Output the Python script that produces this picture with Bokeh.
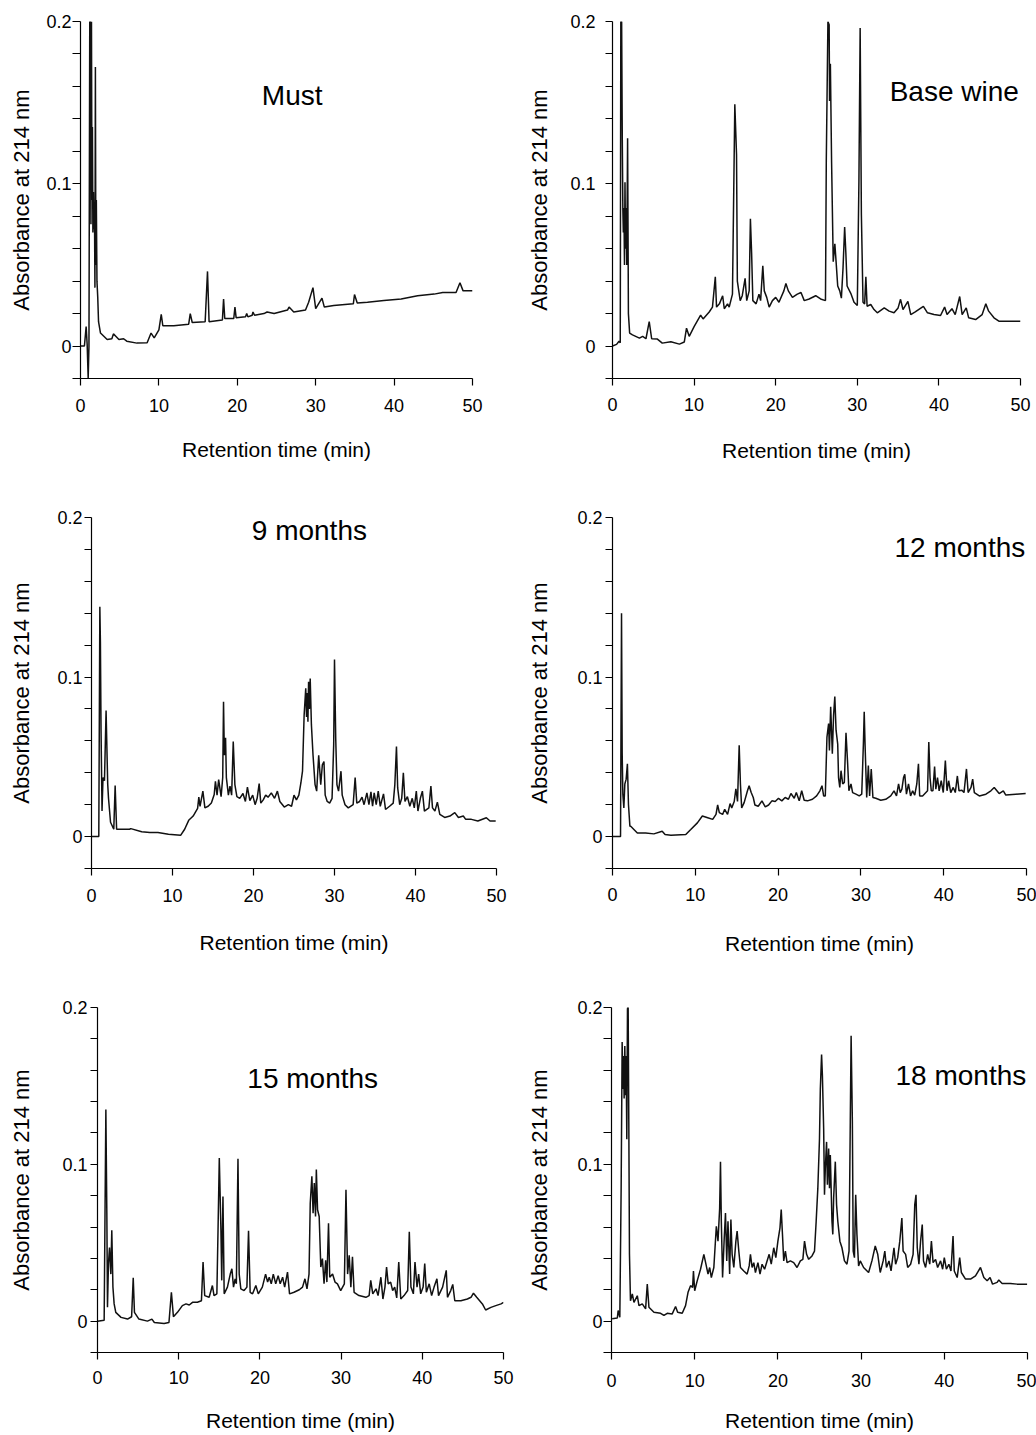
from bokeh.plotting import figure
from bokeh.layouts import column, row
from bokeh.models import Range1d, FixedTicker, Label
from bokeh.embed import file_html
from bokeh.resources import INLINE

# ---------------- data (retention time in min, absorbance at 214 nm) ----------------
must = [(0, 0.0), (0.5, 0.0), (0.72, 0.012), (0.85, 0.001), (0.98, -0.02), (1.08, 0.0), (1.18, 0.2),
        (1.28, 0.2), (1.33, 0.075), (1.4, 0.2), (1.46, 0.09), (1.52, 0.135), (1.58, 0.07), (1.65, 0.095),
        (1.72, 0.072), (1.78, 0.088), (1.84, 0.036), (1.9, 0.172), (1.96, 0.05), (2.02, 0.09), (2.1, 0.04),
        (2.2, 0.03), (2.3, 0.015), (2.55, 0.008), (3.4, 0.004), (4.0, 0.0045), (4.2, 0.0075), (4.5, 0.006),
        (4.9, 0.004), (5.5, 0.0045), (5.9, 0.003), (7.2, 0.0018), (8.5, 0.002), (9.0, 0.008), (9.4, 0.005),
        (10.0, 0.01), (10.3, 0.0195), (10.5, 0.0125), (11.9, 0.0125), (13.8, 0.0135), (14.0, 0.02),
        (14.25, 0.0145), (15.9, 0.015), (16.2, 0.046), (16.4, 0.015), (18.1, 0.016), (18.25, 0.029),
        (18.4, 0.017), (19.55, 0.017), (19.7, 0.024), (19.85, 0.0175), (21.05, 0.018), (21.2, 0.02),
        (21.35, 0.018), (21.9, 0.019), (22.0, 0.021), (22.2, 0.019), (23.4, 0.02), (23.8, 0.021),
        (24.7, 0.02), (26.4, 0.0222), (26.6, 0.024), (27.2, 0.021), (28.7, 0.0222), (29.1, 0.027),
        (29.65, 0.036), (30.0, 0.023), (30.8, 0.0295), (31.1, 0.024), (32.3, 0.025), (34.8, 0.026),
        (34.95, 0.0317), (35.3, 0.0265), (36.6, 0.027), (38.7, 0.028), (40.9, 0.029), (43.0, 0.031),
        (45.1, 0.032), (46.2, 0.033), (47.9, 0.033), (48.4, 0.039), (48.8, 0.034), (50.0, 0.034)]

base_wine = [(0, 0.0), (0.5, 0.001), (0.8, 0.003), (0.95, 0.002), (1.02, 0.2), (1.12, 0.2), (1.2, 0.127),
             (1.27, 0.084), (1.33, 0.07), (1.4, 0.085), (1.47, 0.05), (1.53, 0.101), (1.6, 0.06), (1.68, 0.085),
             (1.75, 0.05), (1.85, 0.128), (1.95, 0.02), (2.1, 0.008), (2.45, 0.0069), (3.3, 0.0049), (3.7, 0.006),
             (4.1, 0.0045), (4.5, 0.015), (4.8, 0.0045), (5.5, 0.0043), (6.1, 0.0018), (7.15, 0.0027),
             (8.2, 0.0012), (8.8, 0.0025), (9.07, 0.011), (9.4, 0.006), (10.0, 0.012), (10.8, 0.019),
             (11.1, 0.0167), (11.85, 0.021), (12.25, 0.024), (12.6, 0.0427), (12.75, 0.024), (13.1, 0.026),
             (13.5, 0.031), (13.7, 0.023), (14.1, 0.026), (14.3, 0.024), (14.7, 0.032), (14.99, 0.149),
             (15.2, 0.118), (15.3, 0.04), (15.65, 0.028), (15.9, 0.031), (16.25, 0.0417), (16.45, 0.028),
             (16.75, 0.034), (16.9, 0.0785), (17.05, 0.057), (17.2, 0.028), (17.6, 0.026), (17.95, 0.032),
             (18.15, 0.028), (18.42, 0.0495), (18.6, 0.034), (18.9, 0.03), (19.2, 0.024), (19.6, 0.028),
             (20.0, 0.03), (20.4, 0.027), (21.0, 0.034), (21.25, 0.0385), (21.55, 0.034), (22.05, 0.03),
             (22.65, 0.032), (23.1, 0.033), (23.5, 0.028), (24.1, 0.029), (24.9, 0.031), (25.5, 0.029),
             (26.1, 0.028), (26.2, 0.114), (26.4, 0.2), (26.55, 0.198), (26.6, 0.151), (26.7, 0.174),
             (26.85, 0.113), (27.05, 0.052), (27.25, 0.063), (27.4, 0.052), (27.6, 0.037), (27.85, 0.034),
             (28.05, 0.0295), (28.25, 0.048), (28.45, 0.0734), (28.6, 0.057), (28.75, 0.037), (29.2, 0.0325),
             (29.6, 0.027), (30.0, 0.025), (30.2, 0.102), (30.35, 0.196), (30.5, 0.081), (30.7, 0.027),
             (30.9, 0.026), (31.05, 0.0427), (31.2, 0.0245), (31.65, 0.0256), (32.05, 0.0225), (32.45, 0.0205),
             (33.3, 0.0235), (33.9, 0.0215), (34.5, 0.0205), (35.0, 0.0235), (35.3, 0.0288), (35.6, 0.0225),
             (36.2, 0.0275), (36.55, 0.0194), (37.1, 0.021), (38.1, 0.0245), (38.6, 0.0205), (39.4, 0.0194),
             (40.2, 0.0188), (40.7, 0.024), (41.0, 0.0194), (41.6, 0.023), (42.0, 0.0194), (42.55, 0.0305),
             (42.85, 0.0194), (43.35, 0.0235), (43.65, 0.0174), (44.5, 0.0163), (45.3, 0.0194), (45.75, 0.026),
             (46.1, 0.0215), (46.75, 0.0174), (47.35, 0.0153), (48.4, 0.0153), (50.0, 0.0153)]

months_9 = [(0, 0.0), (0.9, 0.0), (1.03, 0.144), (1.1, 0.122), (1.18, 0.066), (1.3, 0.016), (1.42, 0.037),
            (1.6, 0.035), (1.8, 0.079), (2.0, 0.033), (2.1, 0.024), (2.35, 0.009), (2.75, 0.0046), (2.92, 0.032),
            (3.1, 0.0046), (4.7, 0.0046), (4.85, 0.005), (6.2, 0.003), (7.2, 0.0025), (8.2, 0.0025),
            (9.5, 0.0015), (11.0, 0.0008), (11.5, 0.0046), (12.0, 0.0102), (12.55, 0.0129), (13.1, 0.0177),
            (13.25, 0.0247), (13.4, 0.019), (13.75, 0.0285), (14.0, 0.018), (14.4, 0.019), (14.8, 0.021),
            (15.15, 0.0264), (15.3, 0.0347), (15.5, 0.026), (15.7, 0.0357), (16.0, 0.025), (16.2, 0.037),
            (16.3, 0.0845), (16.4, 0.051), (16.55, 0.062), (16.65, 0.037), (16.9, 0.026), (17.1, 0.0316),
            (17.3, 0.026), (17.5, 0.0596), (17.7, 0.0326), (17.95, 0.025), (18.3, 0.024), (18.7, 0.027),
            (19.0, 0.022), (19.25, 0.031), (19.55, 0.0226), (19.9, 0.026), (20.2, 0.02), (20.45, 0.024),
            (20.7, 0.0332), (20.9, 0.021), (21.2, 0.023), (21.5, 0.026), (21.8, 0.0247), (22.2, 0.0274),
            (22.6, 0.024), (22.95, 0.0285), (23.25, 0.022), (23.8, 0.0185), (24.3, 0.02), (24.7, 0.019),
            (25.0, 0.026), (25.3, 0.023), (25.6, 0.026), (25.85, 0.0336), (26.05, 0.041), (26.25, 0.076),
            (26.45, 0.093), (26.55, 0.075), (26.65, 0.09), (26.72, 0.072), (26.8, 0.097), (26.9, 0.08),
            (27.0, 0.099), (27.15, 0.07), (27.35, 0.051), (27.6, 0.0326), (27.8, 0.0285), (28.05, 0.051),
            (28.3, 0.0326), (28.5, 0.045), (28.7, 0.047), (28.85, 0.026), (29.1, 0.022), (29.4, 0.021),
            (29.7, 0.024), (29.9, 0.0575), (30.0, 0.111), (30.15, 0.0617), (30.3, 0.0326), (30.5, 0.0285),
            (30.8, 0.041), (30.95, 0.026), (31.3, 0.02), (31.7, 0.018), (32.3, 0.02), (32.55, 0.037),
            (32.75, 0.021), (33.1, 0.022), (33.4, 0.0247), (33.65, 0.02), (34.0, 0.0274), (34.25, 0.02),
            (34.5, 0.028), (34.7, 0.019), (34.9, 0.0274), (35.15, 0.02), (35.4, 0.0285), (35.65, 0.019),
            (36.05, 0.0268), (36.3, 0.017), (36.8, 0.019), (37.25, 0.021), (37.45, 0.0326), (37.65, 0.0565),
            (37.8, 0.0305), (38.05, 0.02), (38.3, 0.024), (38.5, 0.04), (38.7, 0.022), (39.0, 0.025),
            (39.3, 0.019), (39.6, 0.024), (39.85, 0.018), (40.1, 0.0285), (40.3, 0.016), (40.6, 0.024),
            (40.85, 0.0285), (41.1, 0.016), (41.65, 0.018), (41.9, 0.0316), (42.1, 0.018), (42.4, 0.016),
            (42.7, 0.0216), (43.0, 0.0139), (43.6, 0.012), (44.25, 0.0129), (44.85, 0.015), (45.3, 0.012),
            (45.9, 0.0129), (46.2, 0.0108), (46.9, 0.0108), (47.7, 0.0098), (48.75, 0.0118), (49.2, 0.0098),
            (49.9, 0.0098)]

months_12 = [(0, 0.0), (0.97, 0.0), (1.09, 0.14), (1.17, 0.052), (1.25, 0.0266), (1.37, 0.018), (1.49, 0.033),
             (1.65, 0.036), (1.8, 0.0456), (1.93, 0.02), (2.1, 0.0065), (2.2, 0.0065), (3.0, 0.0023),
             (4.0, 0.0023), (5.0, 0.0017), (6.0, 0.0034), (6.35, 0.0013), (7.05, 0.0008), (8.85, 0.0013),
             (9.45, 0.0044), (10.25, 0.0086), (10.85, 0.0129), (11.5, 0.0118), (12.1, 0.0108), (12.5, 0.0139),
             (12.7, 0.0198), (12.9, 0.015), (13.3, 0.0139), (13.55, 0.0171), (13.9, 0.0139), (14.2, 0.0207),
             (14.4, 0.018), (14.7, 0.022), (14.9, 0.03), (15.1, 0.022), (15.3, 0.0572), (15.45, 0.033),
             (15.6, 0.018), (15.9, 0.0213), (16.3, 0.0287), (16.5, 0.0319), (16.75, 0.0276), (17.0, 0.0245),
             (17.2, 0.0198), (17.6, 0.019), (18.05, 0.0224), (18.45, 0.0186), (18.85, 0.0198), (19.25, 0.0224),
             (19.65, 0.022), (20.05, 0.024), (20.45, 0.0224), (20.85, 0.0245), (21.25, 0.0234), (21.55, 0.027),
             (21.95, 0.024), (22.2, 0.0276), (22.55, 0.0224), (22.85, 0.0287), (23.15, 0.0228), (23.55, 0.0224),
             (24.15, 0.0234), (24.65, 0.0255), (25.05, 0.0287), (25.3, 0.0319), (25.5, 0.0255), (25.7, 0.0255),
             (25.9, 0.0624), (26.1, 0.0709), (26.2, 0.054), (26.35, 0.0814), (26.55, 0.052), (26.7, 0.076),
             (26.85, 0.0878), (27.0, 0.0667), (27.2, 0.058), (27.3, 0.037), (27.45, 0.0308), (27.6, 0.0413),
             (27.8, 0.033), (28.0, 0.034), (28.2, 0.065), (28.4, 0.0456), (28.55, 0.0287), (28.8, 0.033),
             (29.0, 0.0276), (29.4, 0.0266), (29.8, 0.0255), (30.1, 0.0266), (30.3, 0.058), (30.4, 0.0783),
             (30.5, 0.058), (30.7, 0.0245), (30.9, 0.0445), (31.05, 0.0255), (31.25, 0.0424), (31.45, 0.0245),
             (31.8, 0.024), (32.4, 0.0228), (33.0, 0.0234), (33.6, 0.0255), (34.0, 0.0287), (34.3, 0.0255),
             (34.55, 0.033), (34.75, 0.0276), (34.95, 0.0297), (35.15, 0.037), (35.3, 0.039), (35.5, 0.0266),
             (35.75, 0.033), (36.0, 0.0255), (36.25, 0.0287), (36.5, 0.026), (36.75, 0.033), (36.95, 0.0456),
             (37.1, 0.0255), (37.45, 0.0255), (38.05, 0.0287), (38.2, 0.0593), (38.35, 0.037), (38.5, 0.0287),
             (38.7, 0.0287), (38.9, 0.0439), (39.05, 0.0297), (39.25, 0.037), (39.45, 0.0287), (39.7, 0.035),
             (39.95, 0.0276), (40.2, 0.0477), (40.4, 0.0287), (40.6, 0.035), (40.85, 0.0276), (41.15, 0.0308),
             (41.4, 0.0276), (41.65, 0.038), (41.85, 0.0287), (42.2, 0.029), (42.45, 0.0276), (42.75, 0.0424),
             (42.95, 0.0276), (43.3, 0.0308), (43.5, 0.036), (43.7, 0.0276), (44.3, 0.0255), (45.1, 0.0266),
             (45.7, 0.0287), (46.1, 0.0308), (46.7, 0.027), (47.2, 0.0287), (47.5, 0.026), (48.7, 0.0266),
             (49.9, 0.027)]

months_15 = [(0, 0.0), (0.82, 0.0006), (1.03, 0.135), (1.15, 0.0688), (1.23, 0.0088), (1.35, 0.0367),
             (1.48, 0.047), (1.64, 0.03), (1.76, 0.058), (1.9, 0.0217), (2.05, 0.011), (2.25, 0.0056),
             (2.9, 0.0024), (3.7, 0.0013), (4.2, 0.0028), (4.4, 0.0277), (4.55, 0.0056), (5.1, 0.0013),
             (6.15, 0.0), (6.7, 0.0013), (7.0, -0.0009), (8.2, -0.0015), (8.8, -0.0009), (9.1, 0.0184),
             (9.35, 0.0028), (9.85, 0.0056), (10.45, 0.0099), (10.9, 0.011), (11.3, 0.0103), (11.7, 0.012),
             (12.3, 0.012), (12.8, 0.013), (13.0, 0.0377), (13.2, 0.0163), (13.75, 0.0152), (14.15, 0.0227),
             (14.35, 0.0163), (14.7, 0.0174), (14.85, 0.06), (15.0, 0.104), (15.2, 0.058), (15.3, 0.026),
             (15.45, 0.0795), (15.6, 0.0174), (16.0, 0.0217), (16.35, 0.03), (16.55, 0.0334), (16.75, 0.0217),
             (16.95, 0.027), (17.1, 0.0238), (17.3, 0.1035), (17.45, 0.03), (17.65, 0.0206), (18.05, 0.0195),
             (18.4, 0.0217), (18.6, 0.0577), (18.8, 0.0184), (19.1, 0.0174), (19.5, 0.0227), (19.8, 0.0174),
             (20.3, 0.0217), (20.7, 0.03), (20.95, 0.0249), (21.15, 0.028), (21.4, 0.0238), (21.65, 0.03),
             (21.95, 0.0238), (22.25, 0.029), (22.5, 0.0238), (22.8, 0.028), (23.05, 0.0217), (23.4, 0.0313),
             (23.65, 0.0174), (24.2, 0.0184), (24.85, 0.02), (25.25, 0.0217), (25.55, 0.027), (25.8, 0.0206),
             (26.05, 0.03), (26.2, 0.0752), (26.4, 0.0924), (26.55, 0.0688), (26.7, 0.088), (26.85, 0.0667),
             (26.95, 0.0967), (27.1, 0.071), (27.3, 0.0667), (27.5, 0.0345), (27.7, 0.0399), (27.9, 0.0238),
             (28.1, 0.0388), (28.25, 0.0249), (28.45, 0.0624), (28.6, 0.028), (28.95, 0.03), (29.25, 0.0249),
             (29.55, 0.0238), (29.95, 0.0195), (30.4, 0.0238), (30.6, 0.0838), (30.8, 0.03), (31.0, 0.042),
             (31.2, 0.0217), (31.4, 0.041), (31.6, 0.0184), (32.2, 0.0163), (33.05, 0.0152), (33.45, 0.0163),
             (33.65, 0.026), (33.9, 0.0174), (34.3, 0.0206), (34.55, 0.0163), (34.9, 0.028), (35.15, 0.0141),
             (35.4, 0.0217), (35.6, 0.0345), (35.8, 0.0238), (36.1, 0.0249), (36.35, 0.0195), (36.6, 0.0217),
             (36.85, 0.0148), (37.1, 0.0377), (37.35, 0.0141), (37.75, 0.0163), (38.2, 0.0195), (38.4, 0.057),
             (38.6, 0.0217), (38.9, 0.0174), (39.1, 0.0377), (39.35, 0.0217), (39.55, 0.03), (39.8, 0.0174),
             (40.1, 0.0217), (40.3, 0.0367), (40.5, 0.0184), (40.85, 0.0238), (41.15, 0.0163), (41.45, 0.0217),
             (41.8, 0.027), (42.0, 0.0163), (42.5, 0.0217), (42.95, 0.0324), (43.1, 0.0152), (43.5, 0.0195),
             (43.75, 0.0234), (44.0, 0.013), (44.75, 0.013), (45.55, 0.0141), (46.0, 0.0152), (46.3, 0.0178),
             (46.7, 0.0152), (47.4, 0.011), (47.8, 0.0071), (48.45, 0.0088), (49.05, 0.0099), (49.7, 0.011),
             (50.0, 0.012)]

months_18 = [(0.08, 0.0015), (0.7, 0.002), (0.8, 0.0068), (1.0, 0.0025), (1.16, 0.085), (1.28, 0.178),
             (1.36, 0.148), (1.44, 0.169), (1.52, 0.142), (1.6, 0.1755), (1.68, 0.144), (1.76, 0.169),
             (1.84, 0.116), (1.92, 0.199), (2.0, 0.202), (2.08, 0.127), (2.16, 0.0426), (2.28, 0.013),
             (2.5, 0.0173), (2.7, 0.012), (3.1, 0.0162), (3.3, 0.0099), (3.7, 0.011), (4.1, 0.0078),
             (4.3, 0.0236), (4.5, 0.0089), (5.1, 0.0057), (5.9, 0.005), (6.3, 0.0036), (6.7, 0.005),
             (7.3, 0.0046), (7.7, 0.0093), (7.95, 0.0057), (8.5, 0.005), (8.9, 0.0099), (9.2, 0.0184),
             (9.5, 0.0226), (9.75, 0.0215), (9.85, 0.032), (10.0, 0.0194), (10.3, 0.0257), (10.7, 0.0331),
             (11.1, 0.0426), (11.35, 0.0363), (11.6, 0.03), (11.8, 0.0342), (12.0, 0.0278), (12.3, 0.0342),
             (12.6, 0.0605), (12.8, 0.051), (13.0, 0.072), (13.1, 0.1017), (13.2, 0.0637), (13.35, 0.0278),
             (13.55, 0.053), (13.7, 0.069), (13.85, 0.0384), (14.0, 0.0637), (14.2, 0.03), (14.35, 0.0648),
             (14.5, 0.0426), (14.7, 0.0342), (14.95, 0.051), (15.1, 0.0574), (15.3, 0.0447), (15.5, 0.0342),
             (15.9, 0.032), (16.3, 0.03), (16.55, 0.0352), (16.7, 0.0426), (16.9, 0.0342), (17.1, 0.0373),
             (17.3, 0.031), (17.6, 0.0373), (17.85, 0.03), (18.1, 0.0363), (18.4, 0.0331), (18.7, 0.0384),
             (18.95, 0.0426), (19.2, 0.0363), (19.5, 0.0468), (19.75, 0.0405), (20.0, 0.051), (20.25, 0.0595),
             (20.4, 0.0711), (20.55, 0.0553), (20.7, 0.0384), (20.9, 0.0447), (21.1, 0.0373), (21.5, 0.0384),
             (21.9, 0.0373), (22.3, 0.0342), (22.7, 0.0384), (23.0, 0.0394), (23.2, 0.051), (23.45, 0.0426),
             (23.7, 0.0394), (24.1, 0.0416), (24.4, 0.0447), (24.6, 0.0637), (24.8, 0.0848), (25.0, 0.1165),
             (25.1, 0.148), (25.25, 0.17), (25.35, 0.1565), (25.5, 0.1228), (25.6, 0.0806), (25.7, 0.0975),
             (25.85, 0.1143), (25.95, 0.087), (26.1, 0.11), (26.2, 0.0848), (26.3, 0.106), (26.5, 0.0637),
             (26.6, 0.0553), (26.7, 0.0785), (26.9, 0.1017), (27.05, 0.0743), (27.2, 0.0637), (27.45, 0.051),
             (27.7, 0.0468), (28.0, 0.0384), (28.3, 0.0363), (28.55, 0.0447), (28.7, 0.127), (28.8, 0.182),
             (28.95, 0.127), (29.05, 0.0447), (29.2, 0.0405), (29.35, 0.0806), (29.5, 0.0553), (29.7, 0.0352),
             (29.9, 0.0384), (30.3, 0.0342), (30.9, 0.031), (31.3, 0.0384), (31.7, 0.0479), (32.0, 0.0426),
             (32.3, 0.031), (32.65, 0.0384), (32.85, 0.0447), (33.05, 0.0342), (33.35, 0.0384), (33.6, 0.032),
             (33.95, 0.0468), (34.15, 0.0363), (34.4, 0.0405), (34.65, 0.051), (34.9, 0.0658), (35.05, 0.0447),
             (35.35, 0.0426), (35.6, 0.0342), (35.95, 0.0363), (36.25, 0.0426), (36.45, 0.0743), (36.6, 0.0806),
             (36.75, 0.0468), (36.95, 0.0363), (37.15, 0.051), (37.35, 0.0616), (37.5, 0.0384), (37.75, 0.0342),
             (38.0, 0.0426), (38.25, 0.0363), (38.45, 0.051), (38.65, 0.0373), (38.95, 0.0394), (39.2, 0.0342),
             (39.55, 0.0384), (39.8, 0.0331), (40.0, 0.0405), (40.25, 0.0331), (40.55, 0.0363), (40.8, 0.032),
             (41.05, 0.0542), (41.2, 0.032), (41.55, 0.0278), (41.85, 0.0405), (42.05, 0.031), (42.55, 0.0268),
             (43.15, 0.0268), (43.75, 0.0289), (44.35, 0.0342), (44.75, 0.0278), (45.15, 0.0257), (45.5, 0.0278),
             (45.8, 0.0236), (46.35, 0.0247), (46.55, 0.0262), (46.95, 0.024), (47.95, 0.024), (48.75, 0.0236),
             (49.96, 0.0236)]

titles = ["Must", "Base wine", "9 months", "12 months", "15 months", "18 months"]
x_ticks = [0, 10, 20, 30, 40, 50]
y_major = [0, 0.1, 0.2]
y_minor = [-0.02, 0.02, 0.04, 0.06, 0.08, 0.12, 0.14, 0.16, 0.18]
y_labels = {0: "0", 0.1: "0.1", 0.2: "0.2"}
x_title = "Retention time (min)"
y_title = "Absorbance at 214 nm"

FONT = "Liberation Sans"

# layout / style per panel
panel_cfg = [
    dict(data=must, title=titles[0], tx=27.0, ty=0.1541, ta="center", W=520, H=482, bl=80, br=48, bt=21, bb=104,
         ytout=8, yts=1, yls=9, xts=13, xls=23),
    dict(data=base_wine, title=titles[1], tx=49.8, ty=0.1569, ta="right", W=516, H=482, bl=92, br=16, bt=21, bb=104,
         ytout=7, yts=10, yls=15, xts=12, xls=25),
    dict(data=months_9, title=titles[2], tx=26.9, ty=0.1919, ta="center", W=520, H=493, bl=91, br=24, bt=35, bb=107,
         ytout=7, yts=2, yls=20, xts=13, xls=26),
    dict(data=months_12, title=titles[3], tx=49.85, ty=0.1809, ta="right", W=516, H=493, bl=92, br=10, bt=35, bb=107,
         ytout=7, yts=3, yls=22, xts=12, xls=28),
    dict(data=months_15, title=titles[4], tx=26.5, ty=0.155, ta="center", W=520, H=460, bl=97, br=17, bt=32, bb=83,
         ytout=7, yts=3, yls=25, xts=11, xls=22),
    dict(data=months_18, title=titles[5], tx=49.85, ty=0.1566, ta="right", W=516, H=460, bl=91, br=9, bt=32, bb=83,
         ytout=8, yts=1, yls=22, xts=14, xls=19),
]


def make_panel(c):
    p = figure(width=c["W"], height=c["H"], x_range=Range1d(0, 50), y_range=Range1d(-0.02, 0.2),
               output_backend="svg", toolbar_location=None,
               min_border_left=c["bl"], min_border_right=c["br"],
               min_border_top=c["bt"], min_border_bottom=c["bb"])
    p.grid.visible = False
    p.outline_line_color = None
    p.background_fill_color = "white"
    p.border_fill_color = "white"

    xs = [pt[0] for pt in c["data"]]
    ys = [pt[1] for pt in c["data"]]
    p.line(xs, ys, line_color="#111111", line_width=1.5)

    for ax in (p.xaxis[0], p.yaxis[0]):
        ax.axis_line_color = "black"
        ax.axis_line_width = 1.2
        ax.major_tick_line_color = "black"
        ax.major_tick_line_width = 1.2
        ax.minor_tick_line_color = "black"
        ax.minor_tick_line_width = 1.2
        ax.major_tick_in = 0
        ax.minor_tick_in = 0
        ax.major_label_text_font = FONT
        ax.major_label_text_font_size = "18px"
        ax.major_label_text_color = "black"
        ax.axis_label_text_font = FONT
        ax.axis_label_text_font_style = "normal"
        ax.axis_label_text_color = "black"

    xa = p.xaxis[0]
    xa.ticker = FixedTicker(ticks=x_ticks)
    xa.major_tick_out = 7
    xa.minor_tick_out = 0
    xa.major_label_standoff = c["xts"]
    xa.axis_label = x_title
    xa.axis_label_text_font_size = "21px"
    xa.axis_label_standoff = c["xls"]

    ya = p.yaxis[0]
    ya.ticker = FixedTicker(ticks=y_major, minor_ticks=y_minor)
    ya.major_label_overrides = y_labels
    ya.major_tick_out = c["ytout"]
    ya.minor_tick_out = c["ytout"]
    ya.major_label_standoff = c["yts"]
    ya.axis_label = y_title
    ya.axis_label_text_font_size = "22px"
    ya.axis_label_standoff = c["yls"]

    p.add_layout(Label(x=c["tx"], y=c["ty"], text=c["title"], text_font=FONT, text_font_size="28px",
                       text_align=c["ta"], text_baseline="middle", text_color="black"))
    return p


figs = [make_panel(c) for c in panel_cfg]
layout = column(row(figs[0], figs[1]), row(figs[2], figs[3]), row(figs[4], figs[5]))

open("out.html", "w").write(file_html(layout, INLINE, title="Chromatograms"))
